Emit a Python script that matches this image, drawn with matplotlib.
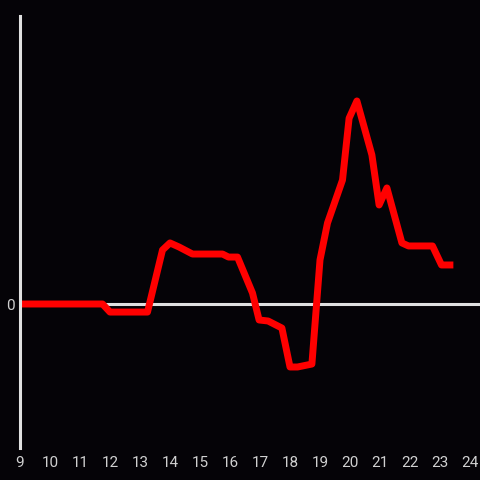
import matplotlib
matplotlib.use("Agg")
import matplotlib.pyplot as plt

# hours of the day and relative value
hours = [9, 11.75, 12, 13.25, 13.75, 14, 14.3, 14.75, 15.75, 15.95, 16.25,
         16.75, 16.97, 17.27, 17.73, 18, 18.25, 18.73, 19, 19.25, 19.75,
         19.97, 20.23, 20.73, 20.97, 21.23, 21.73, 21.95, 22.75, 23.05, 23.33]
values = [0, 0, -0.056, -0.056, 0.375, 0.424, 0.396, 0.347, 0.347, 0.326, 0.326,
          0.076, -0.111, -0.118, -0.167, -0.4375, -0.4375, -0.417, 0.306, 0.5625, 0.861,
          1.29, 1.41, 1.035, 0.6875, 0.806, 0.424, 0.403, 0.403, 0.271, 0.271]
xticks = list(range(9, 25))

bg = "#050307"
fig = plt.figure(figsize=(4.8, 4.8), dpi=100, facecolor=bg)
ax = fig.add_axes([20/480, 32/480, 460/480, 432/480], facecolor=bg)

ax.axhline(0, color="#e0e0e0", lw=2.2, zorder=1)
ax.plot(hours, values, color="#ff0000", lw=5, zorder=2)

ax.set_xlim(9, 9 + 460/30)
ax.set_ylim(-1, 2)
ax.set_xticks(xticks)
ax.set_yticks([0])
ax.tick_params(axis="x", length=0, pad=6, labelsize=11, labelcolor="#d0d0d0")
ax.tick_params(axis="y", length=0, pad=4, labelsize=11, labelcolor="#d0d0d0")
for lab in ax.get_xticklabels() + ax.get_yticklabels():
    lab.set_family("Roboto")

for s in ["top", "right", "bottom"]:
    ax.spines[s].set_visible(False)
ax.spines["left"].set_color("#e0e0e0")
ax.spines["left"].set_linewidth(2.2)
ax.spines["left"].set_zorder(3)

fig.savefig("out.png", dpi=100, facecolor=bg)
